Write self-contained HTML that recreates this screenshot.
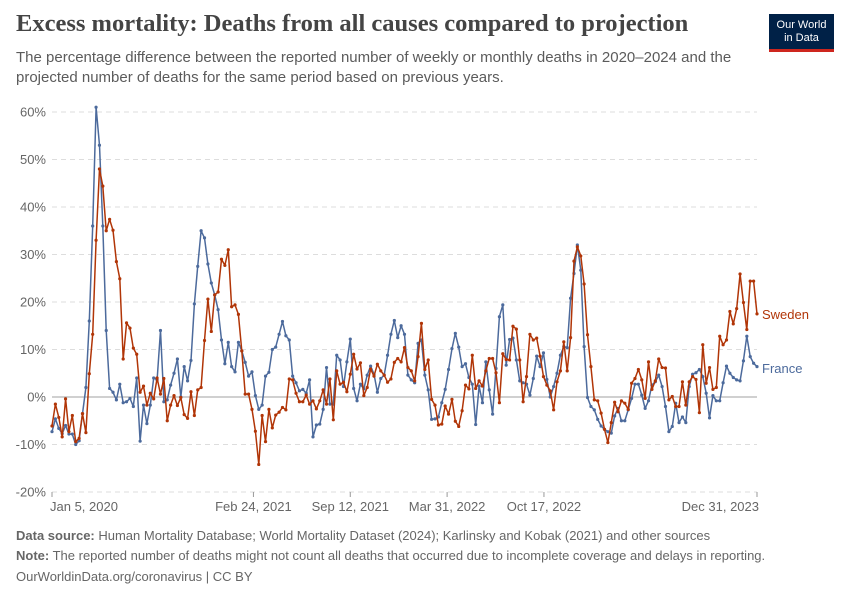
<!DOCTYPE html>
<html><head><meta charset="utf-8">
<style>
body{margin:0;background:#fff;font-family:"Liberation Sans",sans-serif;}
#wrap{position:relative;width:850px;height:600px;overflow:hidden;}
.t{position:absolute;white-space:nowrap;}
</style></head>
<body>
<div id="wrap">
<div class="t" style="left:16px;top:10px;font-family:'Liberation Serif',serif;font-size:24.5px;font-weight:bold;color:#444;">Excess mortality: Deaths from all causes compared to projection</div>
<div class="t" style="left:16px;top:48px;font-size:15px;line-height:20px;color:#5b5b5b;">The percentage difference between the reported number of weekly or monthly deaths in 2020–2024 and the<br>projected number of deaths for the same period based on previous years.</div>
<div style="position:absolute;left:769px;top:14px;width:65px;height:38px;background:#002147;border-bottom:3px solid #ce261e;box-sizing:border-box;color:#fff;font-size:11px;line-height:13px;text-align:center;padding-top:5px;">Our World<br>in Data</div>
<svg id="chart" width="850" height="600" style="position:absolute;left:0;top:0;"></svg>
<div class="t" style="left:16px;top:528px;font-size:13px;color:#666;"><b>Data source:</b> Human Mortality Database; World Mortality Dataset (2024); Karlinsky and Kobak (2021) and other sources</div>
<div class="t" style="left:16px;top:548px;font-size:13px;color:#666;"><b>Note:</b> The reported number of deaths might not count all deaths that occurred due to incomplete coverage and delays in reporting.</div>
<div class="t" style="left:16px;top:569px;font-size:13px;color:#666;">OurWorldinData.org/coronavirus | CC BY</div>
</div>
<script>
const sweden=[-6.1,-1.5,-4.3,-8.4,-0.4,-7.3,-3.9,-9.4,-8.7,-3.5,-7.5,4.9,13.2,33,48,44.4,35,37.4,35.1,28.5,24.9,8,15.6,14.5,10.3,9,1,2.3,-1.7,0.8,-0.4,4,0.6,3.9,-5,-1.7,0.3,-1.8,-0.1,-3.7,-4.5,1.1,-3.9,1.5,2,11.9,20.6,13.8,21.5,22.1,29,27.7,31,19,19.4,
17.4,9.7,0.6,0.6,-2.6,-7.2,-14.2,-3.9,-9.4,-2.6,-6.5,-3.8,-3.2,-2.2,-2.7,3.8,3.6,0.8,-1,-1,0.4,-1.5,-0.8,-2.5,-0.8,1.5,-1.5,3.8,-4.8,5.5,2.7,3.1,1.1,4.8,9,5.9,7.2,0.3,2,5.9,4.4,6.9,5.5,4.6,3.1,3.8,7.3,8.1,7.4,10.4,6.2,5.5,3.4,
8.5,15.5,5.8,7.8,-0.5,-1.7,-5.9,-5.7,-1.9,-3.6,-0.5,-5.1,-6.2,-2.9,2.5,1.7,8.8,1.8,3.4,2.3,5.5,8.1,8.1,5.1,-1.2,9.1,7.9,7.8,14.9,14.3,7.8,-1,4.3,13.2,12,12.4,8.6,4.3,2.5,1.3,-2.7,3.2,5.5,11.6,5.5,12.5,28.6,31.6,29.7,23.8,13.1,6.4,-0.6,
-0.8,-3.4,-6.8,-9.6,-5.4,-1.1,-3.1,-0.8,-1.3,-2.6,2.9,3.9,5.8,3.6,-0.3,7.4,1.6,3.4,8,6.2,6.1,-0.6,0.1,-2,-2,3.2,-1.7,3.2,4.3,3.7,-3.3,11,2.9,6.2,1.6,2,12.8,11,12,18,15.4,18.6,25.9,19.9,14.2,24.4,24.4,17.5];
const france=[-7.3,-4.6,-6.6,-7.7,-6,-7.8,-7.8,-10,-9.2,-3.5,2,16,36,61,53,36,14,1.8,1,-0.6,2.7,-1.2,-1,-0.3,-2,4,-9.3,-1.7,-5.6,-1.7,4,3.6,14,-1,-0.6,2.5,5,8,0,6.4,3.4,7.7,19.6,27.5,35,33.5,28,24,21.5,18.4,12,7,11.5,6.4,5.3,
11.5,9.7,7.3,4.4,5.3,0.3,-2.6,-1.7,4.4,5.2,10,10.5,13.2,15.9,12.9,12,4.4,3,1.3,1.6,0.8,3.6,-8.4,-5.9,-5.7,-2.6,6.2,-1.5,-1.5,8.8,7.8,2.2,7.4,12.2,1.8,-0.8,2.7,1.7,4.6,6.5,4.8,1,3.9,4.6,8.8,13.2,16.1,12.5,15,13.2,4.6,3.6,3,
11.3,12,4.6,1.5,-4.7,-4.6,-4.2,-1.2,1.6,5.8,10.2,13.4,10.5,6.4,7,4.1,2.7,-5.8,2.3,-1.2,7.4,1.5,-3.6,6,16.9,19.4,6.7,12.1,12.4,7.8,3.4,3,2.7,0.4,3.9,8.6,6.4,9.3,3.7,0,2.2,5,8.8,10.6,10.4,20.8,26,32,26.7,10.6,-0.1,-2,-2.7,
-4.7,-6.1,-6.8,-7.3,-7.6,-4,-2.4,-5,-5,-2.7,-0.3,2.7,2.7,0.4,-2.4,-0.8,2.5,3.2,4.6,2.2,-2,-7.3,-6.2,-1.3,-5.4,-4.2,-5.4,2.2,4.8,5.1,5.8,4.3,0.8,-4.4,0.3,-0.8,-0.8,3,6.5,5,4.1,3.6,3.4,7.6,12.8,8.5,7.1,6.4];
const yTicks=[-20,-10,0,10,20,30,40,50,60];
const xTickLabels=["Jan 5, 2020","Feb 24, 2021","Sep 12, 2021","Mar 31, 2022","Oct 17, 2022","Dec 31, 2023"];
const xTickDates=["2020-01-05","2021-02-24","2021-09-12","2022-03-31","2022-10-17","2023-12-31"];
const startDate="2020-01-05";

const NS="http://www.w3.org/2000/svg";
const svg=document.getElementById('chart');
const X0=52,X1=757,Y0=397,PXP=4.75;
const t0=Date.parse(startDate), t1=Date.parse(xTickDates[xTickDates.length-1]);
function xDate(d){return X0+(Date.parse(d)-t0)/(t1-t0)*(X1-X0);}
function xWeek(i){return X0+(i*7*86400000)/(t1-t0)*(X1-X0);}
function y(v){return Y0-v*PXP;}
function mk(tag,attrs){const e=document.createElementNS(NS,tag);for(const k in attrs)e.setAttribute(k,attrs[k]);svg.appendChild(e);return e;}

yTicks.forEach(v=>{
  const l=mk('line',{x1:X0,x2:X1,y1:y(v),y2:y(v),stroke:v===0?'#a0a0a0':'#dddddd','stroke-dasharray':v===0?'':'5,4','stroke-width':1});
  
  
  const t=mk('text',{x:46,y:y(v)+4.5,'text-anchor':'end','font-size':13,fill:'#666','font-family':'Liberation Sans, sans-serif'});
  t.textContent=v+'%';
  
  
});
xTickDates.forEach((d,i)=>{
  const x=xDate(d);
  const tk=mk('line',{x1:x,x2:x,y1:492,y2:497,stroke:'#999'});
  
  
  const anchor=i===0?'start':(i===xTickDates.length-1?'end':'middle');
  const t=mk('text',{x:i===0?x-2:(i===xTickDates.length-1?x+2:x),y:511,'text-anchor':anchor,'font-size':13,fill:'#666','font-family':'Liberation Sans, sans-serif'});
  t.textContent=xTickLabels[i];
  
  
});
function series(arr,color,name,label,ly){
  const pts=arr.map((v,i)=>xWeek(i).toFixed(1)+','+y(v).toFixed(1)).join(' ');
  const p=mk('polyline',{points:pts,fill:'none',stroke:color,'stroke-width':1.5,'stroke-linejoin':'round'});
  
  
  arr.forEach((v,i)=>{
    const c=mk('circle',{cx:xWeek(i),cy:y(v),r:1.6,fill:color});
    
    
  });
  const t=mk('text',{x:762,y:ly,'font-size':13,fill:color,'font-family':'Liberation Sans, sans-serif'});
  t.textContent=label;
  
  
}
series(france,'#4c6a9c','france','France',373);
series(sweden,'#b13507','sweden','Sweden',319);
</script>
</body></html>
